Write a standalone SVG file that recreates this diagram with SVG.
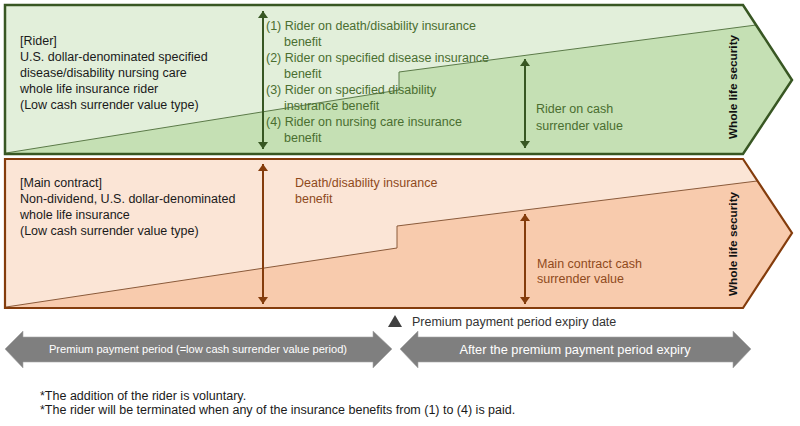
<svg xmlns="http://www.w3.org/2000/svg" width="800" height="426" viewBox="0 0 800 426">
<defs>
<style>
text{font-family:"Liberation Sans",Arial,sans-serif;font-size:12.5px}
.blk{fill:#1a1a1a}
.grn{fill:#4a6e30}
.brn{fill:#8f4a1c}
.wls{font-weight:bold;font-size:11.8px;fill:#111;text-anchor:middle;dominant-baseline:central}
.wht{fill:#fff;text-anchor:middle}
.s1{font-size:11.1px}
.s2{font-size:12.8px}
.ga{stroke:#385723;stroke-width:2;fill:none}
.ba{stroke:#843c0c;stroke-width:2;fill:none}
.gray{fill:#7f7f7f;stroke:#a6a6a6;stroke-width:0.6}
</style>
<marker id="mg" markerUnits="userSpaceOnUse" markerWidth="12" markerHeight="10" refX="7" refY="5" orient="auto-start-reverse" viewBox="0 0 12 10"><path d="M0,0 L7,5 L0,10 Z" fill="#385723"/></marker>
<marker id="mb" markerUnits="userSpaceOnUse" markerWidth="12" markerHeight="10" refX="7" refY="5" orient="auto-start-reverse" viewBox="0 0 12 10"><path d="M0,0 L7,5 L0,10 Z" fill="#843c0c"/></marker>
</defs>
<rect width="800" height="426" fill="#fff"/>

<g id="rider">
<path d="M5,5 H743 L792,80 L743,154 H5 Z" fill="#e2efda"/>
<path d="M6,153 L399,90 L399,72 L756,25 L792,80 L743,154 H6 Z" fill="#c5e0b4"/>
<polyline points="6,153 399,90 399,72 756,25" fill="none" stroke="#5b7a48" stroke-width="1"/>
<path d="M5,5 H743 L792,80 L743,154 H5 Z" fill="none" stroke="#385723" stroke-width="2.5" stroke-linejoin="miter"/>
<text class="blk"><tspan x="20" y="45">[Rider]</tspan><tspan x="20" y="61">U.S. dollar-denominated specified</tspan><tspan x="20" y="77">disease/disability nursing care</tspan><tspan x="20" y="93">whole life insurance rider</tspan><tspan x="20" y="108.5">(Low cash surrender value type)</tspan></text>
<text class="grn"><tspan x="266" y="29.5">(1) Rider on death/disability insurance</tspan><tspan x="284" y="45.5">benefit</tspan><tspan x="266" y="61.5">(2) Rider on specified disease insurance</tspan><tspan x="284" y="77.5">benefit</tspan><tspan x="266" y="93.5">(3) Rider on specified disability</tspan><tspan x="284" y="109.5">insurance benefit</tspan><tspan x="266" y="125.5">(4) Rider on nursing care insurance</tspan><tspan x="284" y="141.5">benefit</tspan></text>
<text class="grn"><tspan x="536" y="113">Rider on cash</tspan><tspan x="536" y="129.5">surrender value</tspan></text>
<text class="wls" transform="translate(733,87) rotate(-90)">Whole life security</text>
</g>

<g id="main-contract">
<path d="M5,159 H743 L792,233 L743,308 H5 Z" fill="#fbe5d6"/>
<path d="M6,307 L397,248 L397,226 L757,181 L792,233 L743,308 H6 Z" fill="#f8cbad"/>
<polyline points="6,307 397,248 397,226 757,181" fill="none" stroke="#8a5a3a" stroke-width="1"/>
<path d="M5,159 H743 L792,233 L743,308 H5 Z" fill="none" stroke="#843c0c" stroke-width="2.2"/>
<text class="blk"><tspan x="20" y="186.5">[Main contract]</tspan><tspan x="20" y="202.5">Non-dividend, U.S. dollar-denominated</tspan><tspan x="20" y="218.5">whole life insurance</tspan><tspan x="20" y="234.5">(Low cash surrender value type)</tspan></text>
<text class="brn"><tspan x="295" y="186.5">Death/disability insurance</tspan><tspan x="295" y="202.5">benefit</tspan></text>
<text class="brn"><tspan x="537" y="267.5">Main contract cash</tspan><tspan x="537" y="283">surrender value</tspan></text>
<text class="wls" transform="translate(733,244) rotate(-90)">Whole life security</text>
</g>

<g id="connectors">
<line class="ga" x1="263" y1="11" x2="263" y2="149" marker-start="url(#mg)" marker-end="url(#mg)"/>
<line class="ga" x1="525" y1="59" x2="525" y2="148" marker-start="url(#mg)" marker-end="url(#mg)"/>
<line class="ba" x1="263" y1="164" x2="263" y2="304" marker-start="url(#mb)" marker-end="url(#mb)"/>
<line class="ba" x1="525" y1="214" x2="525" y2="304" marker-start="url(#mb)" marker-end="url(#mb)"/>
</g>

<g id="expiry-date">
<path d="M388,327 L395,315 L402,327 Z" fill="#404040"/>
<text x="412" y="326" fill="#333">Premium payment period expiry date</text>
</g>

<g id="premium-period">
<path class="gray" d="M5,349 L23,331 L23,337 L373,337 L373,331 L392,349 L373,368 L373,362 L23,362 L23,368 Z"/>
<text class="wht s1" x="198" y="353">Premium payment period (=low cash surrender value period)</text>
</g>

<g id="after-period">
<path class="gray" d="M400,349 L418,331 L418,337 L733,337 L733,331 L751,349 L733,368 L733,362 L418,362 L418,368 Z"/>
<text class="wht s2" x="575" y="354">After the premium payment period expiry</text>
</g>

<g id="notes">
<text class="blk"><tspan x="40" y="399.5">*The addition of the rider is voluntary.</tspan><tspan x="40" y="414">*The rider will be terminated when any of the insurance benefits from (1) to (4) is paid.</tspan></text>
</g>
</svg>
